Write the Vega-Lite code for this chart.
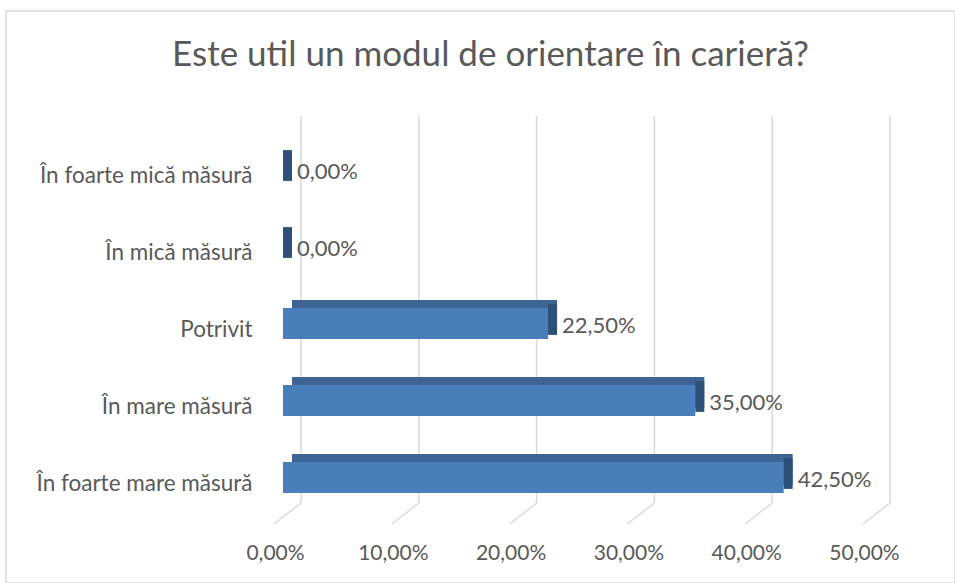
{
  "$schema": "https://vega.github.io/schema/vega-lite/v6.json",
  "width": 949,
  "height": 572,
  "autosize": {"type": "none"},
  "padding": {"left": 6, "top": 11, "right": 0, "bottom": 0},
  "background": "white",
  "config": {
    "view": {"stroke": "#d9d9d9", "strokeWidth": 1.5},
    "font": "Lato",
    "locale": {"number": {"decimal": ",", "thousands": ".", "grouping": [3], "currency": ["", " €"]}}
  },
  "title": {
    "text": "Este util un modul de orientare în carieră?",
    "font": "Lato",
    "fontSize": 35,
    "fontWeight": "normal",
    "color": "#595959",
    "anchor": "middle",
    "frame": "group",
    "offset": -79,
    "baseline": "middle",
    "dx": 10
  },
  "datasets": {
    "bars": [
      {"cat": "În foarte mică măsură", "v": 0},
      {"cat": "În mică măsură", "v": 0},
      {"cat": "Potrivit", "v": 0.225},
      {"cat": "În mare măsură", "v": 0.35},
      {"cat": "În foarte mare măsură", "v": 0.425}
    ],
    "ticks": [
      {"t": 0}, {"t": 0.1}, {"t": 0.2}, {"t": 0.3}, {"t": 0.4}, {"t": 0.5}
    ]
  },
  "layer": [
    {
      "data": {"name": "ticks"},
      "mark": {"type": "rule", "color": "#d9d9d9", "strokeWidth": 1.5, "xOffset": 18},
      "encoding": {
        "x": {
          "field": "t", "type": "quantitative",
          "scale": {"domain": [0, 0.5], "range": [277, 866]},
          "axis": {
            "orient": "bottom", "offset": -30, "values": [0, 0.1, 0.2, 0.3, 0.4, 0.5],
            "format": ".2%", "grid": false, "domain": false, "ticks": false,
            "labelPadding": 0, "labelBaseline": "middle", "labelOffset": -8,
            "labelFlush": false, "labelOverlap": false, "labelBound": false,
            "labelFont": "Lato", "labelFontSize": 21, "labelColor": "#595959", "title": null
          }
        },
        "y": {"datum": 0, "type": "quantitative", "scale": {"domain": [0, 1], "range": [492, 105]}, "axis": null},
        "y2": {"datum": 1}
      }
    },
    {
      "data": {"name": "ticks"},
      "mark": {"type": "rule", "color": "#d9d9d9", "strokeWidth": 1.5, "xOffset": 18, "x2Offset": -9, "y2Offset": 21},
      "encoding": {
        "x": {"field": "t", "type": "quantitative"},
        "x2": {"field": "t"},
        "y": {"datum": 0, "type": "quantitative", "scale": {"domain": [0, 1], "range": [492, 105]}, "axis": null},
        "y2": {"datum": 0}
      }
    },
    {
      "data": {"name": "bars"},
      "encoding": {
        "y": {
          "field": "cat", "type": "nominal", "sort": null,
          "scale": {
            "domain": ["În foarte mică măsură", "În mică măsură", "Potrivit", "În mare măsură", "În foarte mare măsură"],
            "range": [120, 505], "paddingInner": 0.6, "paddingOuter": 0.3
          },
          "axis": {
            "orient": "left", "offset": -246, "domain": false, "ticks": false, "grid": false,
            "labelPadding": 0, "labelOffset": 6, "labelLimit": 400,
            "labelFont": "Lato", "labelFontSize": 22.5, "labelColor": "#595959", "title": null
          }
        }
      },
      "layer": [
        {
          "mark": {"type": "bar", "color": "#3d6494", "xOffset": 9, "x2Offset": 4, "yOffset": -8, "y2Offset": -8},
          "encoding": {"x": {"field": "v", "type": "quantitative"}}
        },
        {
          "mark": {"type": "bar", "color": "#2d5079", "x2Offset": 9, "yOffset": -4, "y2Offset": -4},
          "encoding": {"x": {"field": "v", "type": "quantitative"}, "x2": {"field": "v"}}
        },
        {
          "mark": {"type": "bar", "color": "#4a7ebb"},
          "encoding": {"x": {"field": "v", "type": "quantitative"}}
        },
        {
          "mark": {"type": "text", "align": "left", "baseline": "middle", "dx": 14, "dy": 2, "font": "Lato", "fontSize": 22, "color": "#595959"},
          "encoding": {
            "x": {"field": "v", "type": "quantitative"},
            "text": {"field": "v", "type": "quantitative", "format": ".2%"}
          }
        }
      ]
    }
  ],
  "resolve": {"scale": {"y": "independent"}}
}
